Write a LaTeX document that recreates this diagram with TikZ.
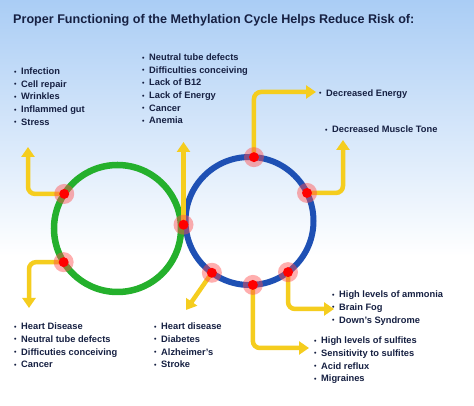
\documentclass[tikz,border=0pt]{standalone}
\usepackage{fontspec}
\setmainfont{Liberation Sans}
\usetikzlibrary{calc,arrows.meta}

\definecolor{skyblue}{RGB}{170,205,245}
\definecolor{navy}{RGB}{22,32,66}
\definecolor{cycgreen}{RGB}{36,176,44}
\definecolor{cycblue}{RGB}{30,80,180}
\definecolor{gold}{RGB}{245,205,30}

% one line of a list
\newcommand{\itm}[1]{\makebox[7pt][l]{\raisebox{0.4pt}{\scriptsize\textbullet}}#1}

\tikzset{
  risk/.style={anchor=north west, inner sep=0pt, align=left, text=navy,
    font=\bfseries\fontsize{9.3}{12.7}\selectfont},
  feed/.style={draw=gold, line width=4.5pt, rounded corners=7pt,
    -{Triangle[width=13pt,length=10pt]}},
  halo/.style={red!70, opacity=0.45}
}

\begin{document}
\begin{tikzpicture}[x=1pt,y=1pt]
\useasboundingbox (0,0) rectangle (474,406);

% Фон
\fill[white] (0,0) rectangle (474,406);
\shade[top color=skyblue, bottom color=white] (0,150) rectangle (474,406);

% Заголовок
\node[anchor=base west, inner sep=0pt, text=navy,
  font=\bfseries\fontsize{12.6}{14}\selectfont] (title) at (13,382)
  {Proper Functioning of the Methylation Cycle Helps Reduce Risk of:};

% Два круга
\coordinate (gc) at (117.5,177.5);
\coordinate (bc) at (249.5,185);
\draw[cycblue, line width=6pt] (bc) circle (64);
\draw[cycgreen, line width=6.5pt] (gc) circle (63.5);

% Точки на кругах
\coordinate (g1) at ($(gc)+(147:63.5)$);
\coordinate (g2) at ($(gc)+(212:63.5)$);
\coordinate (mid) at ($(gc)!0.5!(bc)$);
\coordinate (b1) at ($(bc)+(86:64)$);
\coordinate (b2) at ($(bc)+(26:64)$);
\coordinate (b3) at ($(bc)+(234:64)$);
\coordinate (b4) at ($(bc)+(273:64)$);
\coordinate (b5) at ($(bc)+(307:64)$);

% Концы стрелок
\coordinate (t1) at (28,259);
\coordinate (t2) at (29,98);
\coordinate (t3) at (183.5,264);
\coordinate (t4) at (316,314);
\coordinate (t5) at (343,266);
\coordinate (t6) at (186,96);
\coordinate (t7) at (309,58);
\coordinate (t8) at (334,97);

% Стрелки
\draw[feed] (g1) -| (t1);
\draw[feed] (g2) -| (t2);
\draw[feed] (mid) -- (t3);
\draw[feed] (b1) |- (t4);
\draw[feed] (b2) -| (t5);
\draw[feed] (b3) -- (t6);
\draw[feed] (b4) |- (t7);
\draw[feed] (b5) |- (t8);

\foreach \p in {g1,g2,mid,b1,b2,b3,b4,b5} {
  \fill[halo] (\p) circle (10);
  \fill[red] (\p) circle (5);
}

% Списки
\node[risk] (risk1) at (14,338.5) {\itm{Infection}\\ \itm{Cell repair}\\
  \itm{Wrinkles}\\ \itm{Inflammed gut}\\ \itm{Stress}};
\node[risk] (risk2) at (142,352.5) {\itm{Neutral tube defects}\\
  \itm{Difficulties conceiving}\\ \itm{Lack of B12}\\ \itm{Lack of Energy}\\
  \itm{Cancer}\\ \itm{Anemia}};
\node[risk] (risk3) at (319,316.6) {\itm{Decreased Energy}};
\node[risk] (risk4) at (325,280) {\itm{Decreased Muscle Tone}};
\node[risk] (risk5) at (14,83.3) {\itm{Heart Disease}\\
  \itm{Neutral tube defects}\\ \itm{Difficuties conceiving}\\ \itm{Cancer}};
\node[risk] (risk6) at (154,83.3) {\itm{Heart disease}\\ \itm{Diabetes}\\
  \itm{Alzheimer's}\\ \itm{Stroke}};
\node[risk] (risk7) at (332,115.3) {\itm{High levels of ammonia}\\
  \itm{Brain Fog}\\ \itm{Down's Syndrome}};
\node[risk] (risk8) at (314,69.3) {\itm{High levels of sulfites}\\
  \itm{Sensitivity to sulfites}\\ \itm{Acid reflux}\\ \itm{Migraines}};
\end{tikzpicture}
\end{document}
